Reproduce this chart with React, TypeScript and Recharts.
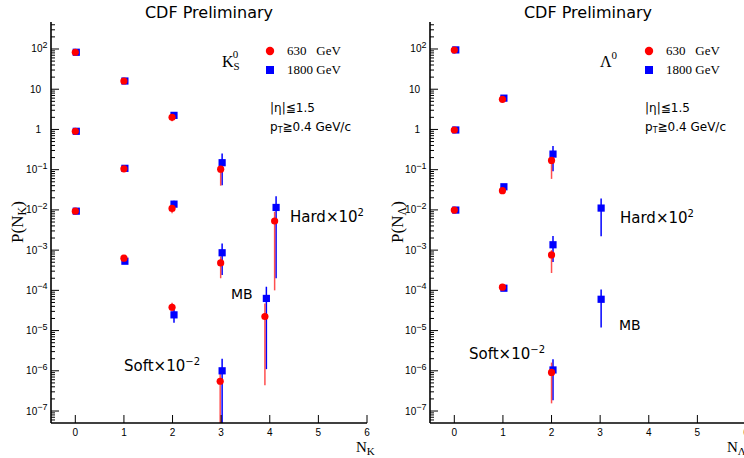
import React from 'react';
import { ScatterChart, Scatter, XAxis, YAxis, ErrorBar, Legend } from 'recharts';

// ---------- data: K0S panel ----------
const kX630 = [0, 1, 1.99, 2.99, 4.1, 0, 1, 1.99, 2.99, 3.9, 0, 1, 1.99, 2.98];
const kP630 = [83, 16, 2.0, 0.103, 0.0053, 0.9, 0.105, 0.0109, 4.8e-4, 2.24e-5, 0.0093, 6.3e-4, 3.8e-5, 5.5e-7];
const kLo630 = [83, 16, 1.6, 0.04, 1.0e-4, 0.9, 0.105, 0.0082, 2.0e-4, 4.4e-7, 0.0093, 6.3e-4, 3.0e-5, 1e-9];
const kHi630 = [83, 16, 2.5, 0.13, 0.009, 0.9, 0.105, 0.012, 7.0e-4, 4.7e-5, 0.0093, 6.3e-4, 4.9e-5, 1.0e-6];

const kX1800 = [0.02, 1.02, 2.03, 3.02, 4.13, 0.02, 1.02, 2.03, 3.02, 3.93, 0.02, 1.02, 2.03, 3.02];
const kP1800 = [83, 16, 2.24, 0.149, 0.0115, 0.9, 0.108, 0.0139, 8.6e-4, 6.3e-5, 0.0093, 5.3e-4, 2.46e-5, 1.0e-6];
const kLo1800 = [83, 16, 1.9, 0.041, 2e-4, 0.9, 0.108, 0.0113, 2.4e-4, 1.1e-6, 0.0093, 5.3e-4, 1.56e-5, 1e-9];
const kHi1800 = [83, 16, 2.7, 0.254, 0.022, 0.9, 0.108, 0.0168, 1.47e-3, 1.23e-4, 0.0093, 5.3e-4, 3.35e-5, 2.0e-6];

// ---------- data: Lambda0 panel ----------
const lX630 = [0, 0.99, 2, 0, 0.99, 2, 0, 0.99, 2];
const lP630 = [94, 5.6, 0.17, 0.97, 0.03, 7.6e-4, 0.0099, 1.2e-4, 9.1e-7];
const lLo630 = [94, 5.6, 0.059, 0.97, 0.03, 2.7e-4, 0.0099, 1.2e-4, 1.55e-7];
const lHi630 = [94, 5.6, 0.2, 0.97, 0.03, 1.0e-3, 0.0099, 1.2e-4, 1.6e-6];

const lX1800 = [0.03, 1.02, 2.03, 3.02, 0.03, 1.02, 2.03, 3.02, 0.03, 1.02, 2.03];
const lP1800 = [95, 6.0, 0.244, 0.0111, 0.97, 0.0376, 1.36e-3, 6.0e-5, 0.0099, 1.13e-4, 1.05e-6];
const lLo1800 = [95, 6.0, 0.092, 0.0022, 0.97, 0.0376, 5.1e-4, 1.19e-5, 0.0099, 1.13e-4, 1.86e-7];
const lHi1800 = [95, 6.0, 0.39, 0.0193, 0.97, 0.0376, 2.23e-3, 1.05e-4, 0.0099, 1.13e-4, 1.95e-6];

// ---------- axes ----------
const xTicks = [0, 1, 2, 3, 4, 5, 6];
const decadeExponents = [-7, -6, -5, -4, -3, -2, -1, 0, 1, 2];
const decadeBase = ['10', '10', '10', '10', '10', '10', '10', '1', '10', '10'];
const decadeSup = ['\u22127', '\u22126', '\u22125', '\u22124', '\u22123', '\u22122', '\u22121', '', '', '2'];
const minorMultipliers = [1, 2, 3, 4, 5, 6, 7, 8, 9];
const Y_MIN = 5.04e-8;
const Y_MAX = 469;
const X_DOMAIN: [number, number] = [-0.5, 6];

const seriesNames = ['630   GeV', '1800 GeV'];

const yTicks: number[] = [];
for (let e = -8; e <= 2; e++) {
  for (const m of minorMultipliers) {
    const v = m * Math.pow(10, e);
    if (v >= Y_MIN && v <= Y_MAX) yTicks.push(v);
  }
}

const FONT_SANS = '"DejaVu Sans", sans-serif';
const FONT_TICK = '"Liberation Sans", Arial, sans-serif';
const FONT_SERIF = '"Liberation Serif", "Times New Roman", serif';
const RED = '#ff0000';
const BLUE = '#0000ff';

// error bars that run past the bottom of the frame are cut at the frame
function rows(xs: number[], ps: number[], lo: number[], hi: number[]) {
  return xs.map((x, i) => {
    const low = Math.max(lo[i], Y_MIN);
    return { x, y: ps[i], err: [Math.max(0, ps[i] - low), Math.max(0, hi[i] - ps[i])] };
  });
}

function YTick(props: any) {
  const { x, y, payload } = props;
  const v = payload.value;
  const lg = Math.log10(v);
  const e = Math.round(lg);
  const major = Math.abs(lg - e) < 1e-6;
  const i = decadeExponents.indexOf(e);
  return (
    <g>
      <line x1={x} x2={x + (major ? 8 : 4)} y1={y} y2={y} stroke="#000" strokeWidth={1} />
      {major && i >= 0 && (decadeSup[i] ? (
        <text x={x - 3.5} y={y + 3.5} textAnchor="end" fontFamily={FONT_TICK} fontSize={10} fill="#000">
          {decadeBase[i]}
          <tspan dy={-4.5} fontSize={9}>{decadeSup[i]}</tspan>
        </text>
      ) : (
        <text x={x - 10} y={y + 3.5} textAnchor="end" fontFamily={FONT_TICK} fontSize={10} fill="#000">
          {decadeBase[i]}
        </text>
      ))}
    </g>
  );
}

function XTick(props: any) {
  const { x, y, payload } = props;
  return (
    <g>
      <line x1={x} x2={x} y1={y} y2={y - 8} stroke="#000" strokeWidth={1} />
      <text x={x} y={y + 12.5} textAnchor="middle" fontFamily={FONT_TICK} fontSize={10} fill="#000">
        {payload.value}
      </text>
    </g>
  );
}

const circleShape = (p: any) => <circle cx={p.cx} cy={p.cy} r={3.6} fill={RED} />;
const squareShape = (p: any) => <rect x={p.cx - 3.6} y={p.cy - 3.6} width={7.2} height={7.2} fill={BLUE} />;

function LegendContent(props: any) {
  const items = [...(props.payload || [])].reverse();
  return (
    <div style={{ fontFamily: FONT_SERIF, fontSize: 13, color: '#000' }}>
      {items.map((it: any, i: number) => (
        <div key={i} style={{ display: 'flex', alignItems: 'center', height: 19.5 }}>
          <svg width={12} height={12} style={{ display: 'block' }}>
            {i === 0 ? <circle cx={6} cy={6} r={4.2} fill={it.color} /> : <rect x={2} y={2} width={8} height={8} fill={it.color} />}
          </svg>
          <span style={{ marginLeft: 11, whiteSpace: 'pre' }}>{it.value}</span>
        </div>
      ))}
    </div>
  );
}

type PanelProps = {
  left: number;
  width: number;
  yAxisWidth: number;
  rightMargin: number;
  legendLeft: number;
  d630: any[];
  d1800: any[];
};

function Panel({ left, width, yAxisWidth, rightMargin, legendLeft, d630, d1800 }: PanelProps) {
  return (
    <div style={{ position: 'absolute', left, top: 0 }}>
      <ScatterChart width={width} height={458} margin={{ top: 22, right: rightMargin, bottom: 0, left: 0 }}>
        <XAxis
          dataKey="x"
          type="number"
          domain={X_DOMAIN}
          allowDataOverflow
          ticks={xTicks}
          interval={0}
          tick={<XTick />}
          tickLine={false}
          tickSize={0}
          tickMargin={0}
          height={35}
          axisLine={{ stroke: '#000', strokeWidth: 1.6 }}
        />
        <XAxis
          xAxisId="top"
          orientation="top"
          type="number"
          domain={X_DOMAIN}
          allowDataOverflow
          tick={false}
          tickLine={false}
          height={0}
          axisLine={{ stroke: '#000', strokeWidth: 1.2 }}
        />
        <YAxis
          dataKey="y"
          type="number"
          scale="log"
          domain={[Y_MIN, Y_MAX]}
          allowDataOverflow
          ticks={yTicks}
          interval={0}
          tick={<YTick />}
          tickLine={false}
          tickSize={0}
          tickMargin={0}
          width={yAxisWidth}
          axisLine={{ stroke: '#000', strokeWidth: 1.6 }}
        />
        <YAxis
          yAxisId="right"
          orientation="right"
          type="number"
          scale="log"
          domain={[Y_MIN, Y_MAX]}
          allowDataOverflow
          tick={false}
          tickLine={false}
          width={0}
          axisLine={{ stroke: '#000', strokeWidth: 1.2 }}
        />
        <Legend
          layout="vertical"
          align="center"
          verticalAlign="middle"
          content={<LegendContent />}
          wrapperStyle={{ left: legendLeft, top: 41, width: 110, height: 40 }}
        />
        <Scatter name={seriesNames[1]} data={d1800} fill={BLUE} shape={squareShape} isAnimationActive={false}>
          <ErrorBar dataKey="err" direction="y" width={0} stroke={BLUE} strokeWidth={1.5} isAnimationActive={false} />
        </Scatter>
        <Scatter name={seriesNames[0]} data={d630} fill={RED} shape={circleShape} isAnimationActive={false}>
          <ErrorBar dataKey="err" direction="y" width={0} stroke="#ff3030" strokeWidth={1.5} strokeOpacity={0.85} isAnimationActive={false} />
        </Scatter>
      </ScatterChart>
    </div>
  );
}

function Sup({ children }: { children: React.ReactNode }) {
  return <tspan dy={-6} fontSize={10}>{children}</tspan>;
}

export default function App() {
  const k630 = rows(kX630, kP630, kLo630, kHi630);
  const k1800 = rows(kX1800, kP1800, kLo1800, kHi1800);
  const l630 = rows(lX630, lP630, lLo630, lHi630);
  const l1800 = rows(lX1800, lP1800, lLo1800, lHi1800);

  return (
    <div style={{ position: 'absolute', left: 0, top: 0, width: 744, height: 458, overflow: 'hidden', background: '#fff' }}>
      <Panel left={0} width={372} yAxisWidth={51} rightMargin={5} legendLeft={264} d630={k630} d1800={k1800} />
      <Panel left={372} width={374} yAxisWidth={58} rightMargin={0} legendLeft={271} d630={l630} d1800={l1800} />
      <svg width={744} height={458} style={{ position: 'absolute', left: 0, top: 0, pointerEvents: 'none' }}>
        {/* titles */}
        <text x={209} y={18.3} textAnchor="middle" fontFamily={FONT_SANS} fontSize={16}>CDF Preliminary</text>
        <text x={588} y={18.3} textAnchor="middle" fontFamily={FONT_SANS} fontSize={16}>CDF Preliminary</text>

        {/* particle labels */}
        <text x={222} y={66.5} fontFamily={FONT_SERIF} fontSize={16}>
          K<tspan dy={3} fontSize={11}>S</tspan>
          <tspan dx={-7} dy={-12} fontSize={11}>0</tspan>
        </text>
        <text x={600} y={67} fontFamily={FONT_SERIF} fontSize={16}>
          Λ<tspan dy={-8} fontSize={11}>0</tspan>
        </text>

        {/* cuts */}
        <text x={270} y={112} fontFamily={FONT_SANS} fontSize={12}>|η|≦1.5</text>
        <text x={270} y={131} fontFamily={FONT_SANS} fontSize={12}>
          p<tspan dy={2} fontSize={8}>T</tspan><tspan dy={-2}>≧0.4 GeV/c</tspan>
        </text>
        <text x={645} y={112} fontFamily={FONT_SANS} fontSize={12}>|η|≦1.5</text>
        <text x={645} y={131} fontFamily={FONT_SANS} fontSize={12}>
          p<tspan dy={2} fontSize={8}>T</tspan><tspan dy={-2}>≧0.4 GeV/c</tspan>
        </text>

        {/* sample labels, left */}
        <text x={290} y={221.7} fontFamily={FONT_SANS} fontSize={15}>Hard×10<Sup>2</Sup></text>
        <text x={231} y={299.3} fontFamily={FONT_SANS} fontSize={14}>MB</text>
        <text x={124} y={370.7} fontFamily={FONT_SANS} fontSize={15}>Soft×10<Sup>−2</Sup></text>

        {/* sample labels, right */}
        <text x={620} y={222.7} fontFamily={FONT_SANS} fontSize={15}>Hard×10<Sup>2</Sup></text>
        <text x={619} y={330} fontFamily={FONT_SANS} fontSize={14}>MB</text>
        <text x={469} y={359} fontFamily={FONT_SANS} fontSize={15}>Soft×10<Sup>−2</Sup></text>

        {/* axis titles */}
        <text transform="translate(23.3,222) rotate(-90)" textAnchor="middle" fontFamily={FONT_SERIF} fontSize={17}>
          P(N<tspan dy={3} fontSize={12}>K</tspan><tspan dy={-3}>)</tspan>
        </text>
        <text transform="translate(403,222) rotate(-90)" textAnchor="middle" fontFamily={FONT_SERIF} fontSize={17}>
          P(N<tspan dy={3} fontSize={12}>Λ</tspan><tspan dy={-3}>)</tspan>
        </text>
        <text x={356} y={451.7} fontFamily={FONT_SERIF} fontSize={15}>
          N<tspan dy={3} fontSize={11}>K</tspan>
        </text>
        <text x={727} y={451.7} fontFamily={FONT_SERIF} fontSize={15}>
          N<tspan dy={3} fontSize={11}>Λ</tspan>
        </text>
      </svg>
    </div>
  );
}
